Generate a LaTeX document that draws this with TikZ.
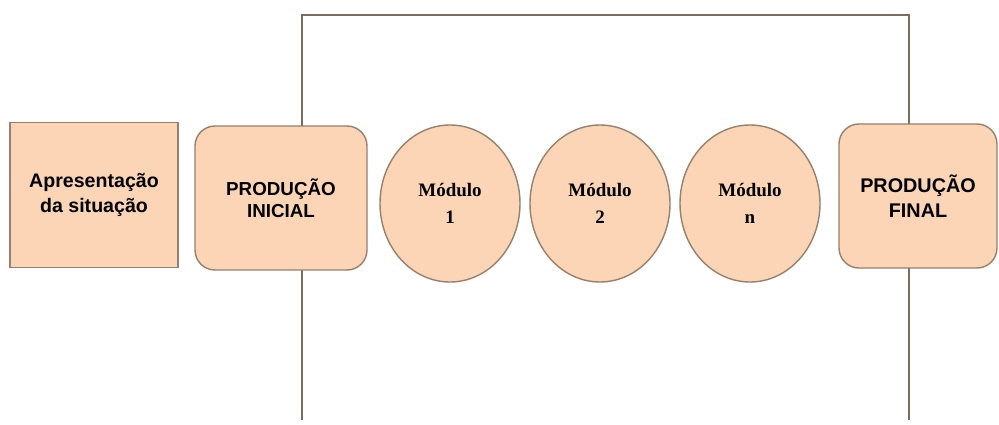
\documentclass[tikz,border=0pt]{standalone}
\usepackage{fontspec}
\usepackage{xcolor}
\usepackage{tikz}
\usetikzlibrary{shapes.geometric}
\newfontfamily\arialfont{Liberation Sans}
\newfontfamily\timesfont{Liberation Serif}
\definecolor{peach}{HTML}{FBD5B6}
\definecolor{peachline}{HTML}{96806E}
\definecolor{frameline}{HTML}{7D6C5E}

\begin{document}
\begin{tikzpicture}[x=1pt,y=1pt,
    stage/.style={fill=peach,draw=peachline,line width=1.4pt,text=black,align=center,inner sep=0pt},
    modulo/.style={stage,shape=ellipse,minimum width=140pt,minimum height=157pt,
                   font=\timesfont\bfseries\fontsize{19}{27}\selectfont}]
    \useasboundingbox (0,0) rectangle (999,424);
    \coordinate (fbl) at (302,4);
    \coordinate (ftl) at (302,409);
    \coordinate (ftr) at (909,409);
    \coordinate (fbr) at (909,4);
    \draw[frameline,line width=2pt] (fbl) -- (ftl) -- (ftr) -- (fbr);

    \node[stage,shape=rectangle,minimum width=168pt,minimum height=145pt,
          font=\arialfont\bfseries\fontsize{19.6}{25}\selectfont] (pres) at (94,229) {Apresentação\\da situação};
    \node[stage,shape=rectangle,rounded corners=20pt,minimum width=172pt,minimum height=144pt,
          font=\arialfont\bfseries\fontsize{18.8}{21.5}\selectfont] (ini) at (281,226) {PRODUÇÃO\\INICIAL};
    \node[modulo] (m1) at (450,220.5) {Módulo\\1};
    \node[modulo] (m2) at (600,220.5) {Módulo\\2};
    \node[modulo] (mn) at (750,220.5) {Módulo\\n};
    \node[stage,shape=rectangle,rounded corners=20pt,minimum width=158pt,minimum height=144pt,
          font=\arialfont\bfseries\fontsize{19.8}{25}\selectfont] (fin) at (918,228) {PRODUÇÃO\\FINAL};
\end{tikzpicture}
\end{document}
